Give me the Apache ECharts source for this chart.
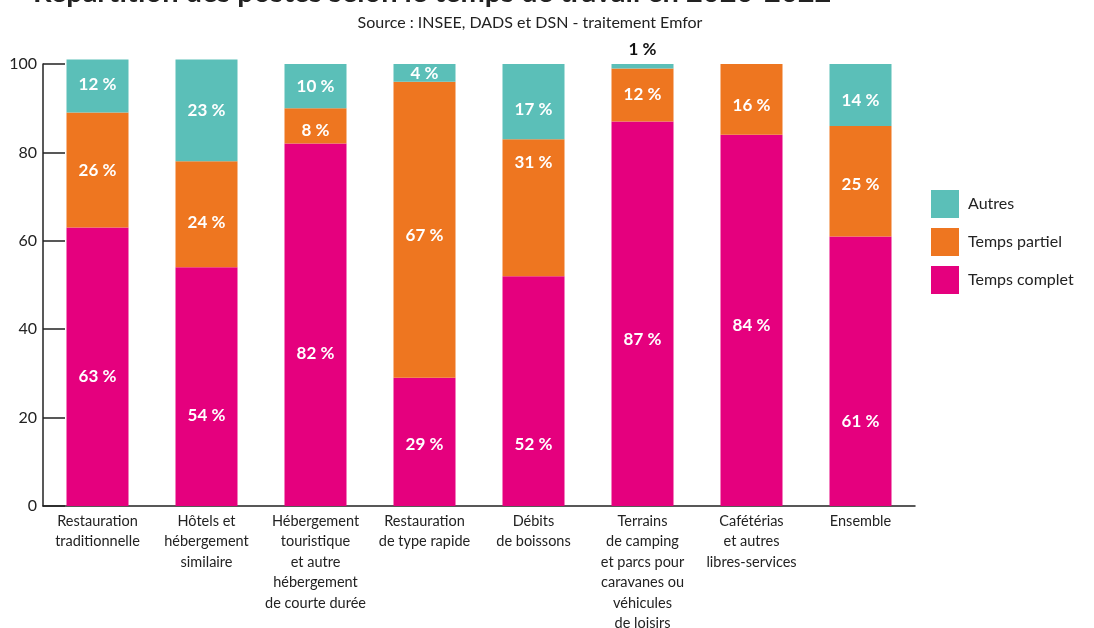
<!DOCTYPE html>
<html>
<head>
<meta charset="utf-8">
<script src="https://cdn.jsdelivr.net/npm/echarts@6/dist/echarts.min.js"></script>
<style>
html,body{margin:0;padding:0;background:#fff;width:1094px;height:628px;overflow:hidden;}
#chart{width:1094px;height:628px;overflow:hidden;}
</style>
</head>
<body>
<div id="chart"></div>
<script>
// ---- data ----
const categories = [
  "Restauration\ntraditionnelle",
  "Hôtels et\nhébergement\nsimilaire",
  "Hébergement\ntouristique\net autre\nhébergement\nde courte durée",
  "Restauration\nde type rapide",
  "Débits\nde boissons",
  "Terrains\nde camping\net parcs pour\ncaravanes ou\nvéhicules\nde loisirs",
  "Cafétérias\net autres\nlibres-services",
  "Ensemble"
];
const tempsComplet = [63, 54, 82, 29, 52, 87, 84, 61];
const tempsPartiel = [26, 24, 8, 67, 31, 12, 16, 25];
const autres = [12, 23, 10, 4, 17, 1, 0, 14];
const yTicks = [0, 20, 40, 60, 80, 100];

// ---- styling (label nudges, as in the original layout) ----
const FONT = 'Lato, "Noto Sans", sans-serif';
const colors = { complet: '#E5007E', partiel: '#EE7620', autres: '#5BBFB8' };
const labelNudgeComplet = [10, 29, 29, 3, 53, 26, 5, 50];
const labelNudgePartiel = [0, 8, 5, 6, -45, 0, 6, 3];
const labelNudgeAutres = [-2, 0, 0, 1, 8, 0, 0, 6];

function labelFor(nudges, i, v) {
  if (v > 0 && v < 3) {
    return { show: true, position: 'top', color: '#111', fontWeight: 'bold', fontSize: 17, fontFamily: FONT, distance: 6 };
  }
  return { show: v > 0, offset: [0, nudges[i]] };
}
function makeData(values, nudges) {
  return values.map((v, i) => ({ value: v, label: labelFor(nudges, i, v) }));
}
const baseLabel = {
  show: true,
  position: 'inside',
  color: '#fff',
  fontFamily: FONT,
  fontWeight: 'bold',
  fontSize: 17,
  formatter: p => p.value + ' %'
};

const chart = echarts.init(document.getElementById('chart'), null, { renderer: 'canvas', width: 1094, height: 628 });
chart.setOption({
  animation: false,
  backgroundColor: '#fff',
  textStyle: { fontFamily: FONT },
  title: [
    {
      text: 'Répartition des postes selon le temps de travail en 2020-2022',
      left: 28, top: -27,
      textStyle: { fontFamily: FONT, fontWeight: 'bold', fontSize: 29, color: '#222' }
    },
    {
      text: 'Source : INSEE, DADS et DSN - traitement Emfor',
      left: 525, top: 10, textAlign: 'center',
      textStyle: { fontFamily: FONT, fontWeight: 'normal', fontSize: 16, color: '#222' }
    }
  ],
  legend: {
    orient: 'vertical',
    left: 926, top: 185,
    itemWidth: 28, itemHeight: 28, itemGap: 10,
    icon: 'rect',
    data: ['Autres', 'Temps partiel', 'Temps complet'],
    textStyle: { fontFamily: FONT, fontSize: 16, color: '#222', padding: [0, 0, 0, 4] }
  },
  grid: { left: 43, top: 64, width: 872, height: 442, containLabel: false, outerBoundsMode: 'none' },
  xAxis: {
    type: 'category',
    data: categories,
    axisLine: { show: true, lineStyle: { color: '#222', width: 1.5 } },
    axisTick: { show: false },
    axisLabel: {
      interval: 0, color: '#222', fontFamily: FONT, fontSize: 14.5,
      lineHeight: 20.5, margin: 5
    }
  },
  yAxis: {
    type: 'value',
    min: 0, max: 100, interval: 20,
    axisLine: { show: true, lineStyle: { color: '#222', width: 1.5 } },
    axisTick: { show: true, inside: true, length: 22, lineStyle: { color: '#222', width: 1.5 } },
    splitLine: { show: false },
    axisLabel: {
      color: '#222', fontFamily: FONT, fontSize: 16, margin: 6,
      lineHeight: 16, padding: [0, 0, 8, 0],
      formatter: v => yTicks.includes(v) ? String(v) : ''
    }
  },
  series: [
    {
      name: 'Temps complet', type: 'bar', stack: 'total', barWidth: 62, clip: false,
      itemStyle: { color: colors.complet },
      label: baseLabel,
      data: makeData(tempsComplet, labelNudgeComplet)
    },
    {
      name: 'Temps partiel', type: 'bar', stack: 'total', barWidth: 62, clip: false,
      itemStyle: { color: colors.partiel },
      label: baseLabel,
      data: makeData(tempsPartiel, labelNudgePartiel)
    },
    {
      name: 'Autres', type: 'bar', stack: 'total', barWidth: 62, clip: false,
      itemStyle: { color: colors.autres },
      label: baseLabel,
      data: makeData(autres, labelNudgeAutres)
    }
  ]
});
</script>
</body>
</html>
